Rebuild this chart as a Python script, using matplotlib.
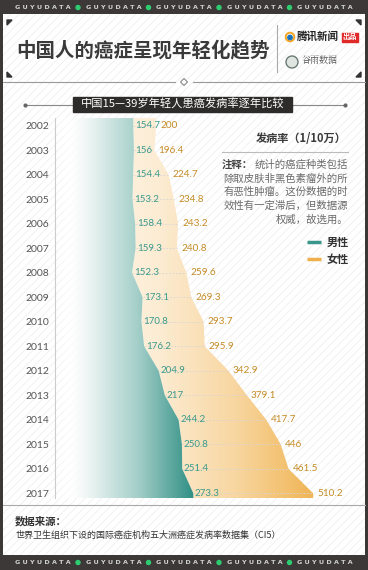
import numpy as np
import matplotlib
matplotlib.use("Agg")
import matplotlib.pyplot as plt
import matplotlib.colors as mcolors
from matplotlib.patches import Rectangle, Polygon, Circle

plt.rcParams['font.family'] = ['Noto Sans CJK SC', 'DejaVu Sans']
plt.rcParams['hatch.linewidth'] = 0.6

years = np.arange(2002, 2018)
male = [154.7, 156, 154.4, 153.2, 158.4, 159.3, 152.3, 173.1, 170.8, 176.2,
        204.9, 217, 244.2, 250.8, 251.4, 273.3]
female = [200, 196.4, 224.7, 234.8, 243.2, 240.8, 259.6, 269.3, 293.7, 295.9,
          342.9, 379.1, 417.7, 446, 461.5, 510.2]
male_labels = ["154.7", "156", "154.4", "153.2", "158.4", "159.3", "152.3", "173.1",
               "170.8", "176.2", "204.9", "217", "244.2", "250.8", "251.4", "273.3"]
female_labels = ["200", "196.4", "224.7", "234.8", "243.2", "240.8", "259.6", "269.3",
                 "293.7", "295.9", "342.9", "379.1", "417.7", "446", "461.5", "510.2"]

title = "中国人的癌症呈现年轻化趋势"
subtitle = "中国15—39岁年轻人患癌发病率逐年比较"
unit = "发病率（1/10万）"
note_head = "注释："
note_lines = ["统计的癌症种类包括", "除取皮肤非黑色素瘤外的所", "有恶性肿瘤。这份数据的时",
              "效性有一定滞后，但数据源", "权威，故选用。"]
source_title = "数据来源："
source = "世界卫生组织下设的国际癌症机构五大洲癌症发病率数据集（CI5）"

W, H = 368, 570
dark = '#3b3837'
teal = '#3a968b'
orange = '#efb04c'

fig = plt.figure(figsize=(W / 100, H / 100), dpi=100)
fig.patch.set_facecolor('white')

# decoration layer in pixel coordinates
bg = fig.add_axes([0, 0, 1, 1])
bg.set_xlim(0, W)
bg.set_ylim(H, 0)
bg.axis('off')

bg.add_patch(Rectangle((0, 0), W, H, facecolor=dark, edgecolor='none', zorder=0))
bg.add_patch(Rectangle((3, 14), W - 6, 541, facecolor='white', edgecolor='#efefef',
                       hatch='////', lw=0, zorder=1))

# top / bottom brand bands
for yb in (7.5, 562.5):
    for i in range(5):
        bg.text(43 + 70.5 * i, yb, "G U Y U D A T A", color='#d2d2d2', fontsize=4.6,
                fontweight='bold', ha='center', va='center', family='DejaVu Sans', zorder=3)
        if i < 4:
            bg.add_patch(Circle((78 + 70.5 * i, yb), 2.0, color='#2ecc71', zorder=3))

# title block
for (cx, cy, dx, dy) in [(7, 20, 1, 1), (361, 20, -1, 1), (7, 77, 1, -1), (361, 77, -1, -1)]:
    bg.add_patch(Polygon([(cx, cy), (cx + 5 * dx, cy), (cx, cy + 5 * dy)],
                         closed=True, color='#333333', zorder=3))
bg.text(143, 50, title, fontsize=14, fontweight='bold', color='#3a3a3a',
        ha='center', va='center', zorder=3)
bg.plot([277, 277], [25, 72], color='#aaaaaa', lw=0.8, zorder=3)

# logos
bg.add_patch(Circle((290, 37), 4.3, facecolor='white', edgecolor='#f5a623', lw=1.4, zorder=3))
bg.add_patch(Circle((290, 37.5), 2.2, color='#1e73be', zorder=4))
bg.text(296.5, 37, "腾讯新闻", fontsize=7.6, fontweight='bold', color='#222222',
        ha='left', va='center', zorder=3)
bg.add_patch(Rectangle((342, 32.5), 16, 9, color='#e02929', zorder=3))
bg.text(350, 37, "出品", fontsize=5.2, fontweight='bold', color='white',
        ha='center', va='center', zorder=4)
bg.add_patch(Circle((292, 62), 6, facecolor='#dfe6e2', edgecolor='#6b7c74', lw=1, zorder=3))
bg.text(302, 60, "谷雨数据", fontsize=6.5, color='#555555', ha='left', va='center',
        family=['Noto Serif CJK SC', 'Noto Sans CJK SC'], zorder=3)

# separator with diamond
bg.plot([3, 175], [82, 82], color='#999999', lw=0.8, zorder=3)
bg.plot([193, 365], [82, 82], color='#999999', lw=0.8, zorder=3)
bg.add_patch(Polygon([(184, 78.5), (187.5, 82), (184, 85.5), (180.5, 82)], closed=True,
                     facecolor='white', edgecolor='#888888', lw=0.8, zorder=3))

# subtitle bar
bg.plot([25, 345], [105, 105], color='#888888', lw=0.8, zorder=3)
bg.plot([25, 345], [105, 105], 'o', color='#666666', ms=2, zorder=3)
bg.add_patch(Rectangle((73, 97), 219, 15, color='#2e2c2b', zorder=4))
bg.text(182.5, 104.5, subtitle, fontsize=8.1, color='white', ha='center', va='center', zorder=5)

# unit, note, legend
bg.text(347, 139, unit, fontsize=8, fontweight='bold', color='#3a3a3a', ha='right',
        va='center', zorder=3)
bg.plot([222, 348], [152, 152], color='#bbbbbb', lw=0.8, zorder=3)
note_y = [165, 178.5, 192, 206, 220]
bg.text(222, note_y[0], note_head, fontsize=7.5, fontweight='bold', color='#444444',
        ha='left', va='center', zorder=3)
for k, line in enumerate(note_lines):
    bg.text(348, note_y[k], line, fontsize=7.5, color='#6a6a6a', ha='right', va='center', zorder=3)
for yl, c, lab in [(242, teal, "男性"), (259, orange, "女性")]:
    bg.plot([307, 321], [yl, yl], color=c, lw=2.5, solid_capstyle='butt', zorder=3)
    bg.text(327, yl, lab, fontsize=8, fontweight='bold', color='#333333', ha='left',
            va='center', zorder=3)

# source block
bg.plot([3, 365], [505, 505], color='#aaaaaa', lw=0.8, zorder=3)
bg.text(15, 521, source_title, fontsize=7.5, fontweight='bold', color='#333333',
        ha='left', va='center', zorder=3)
bg.text(15, 535, source, fontsize=6.5, color='#333333', ha='left', va='center', zorder=3)

# chart
px = 0.506
top_px, bot_px = 118, 498
y0_px, y1_px = 125.7, 493.3
step = (y1_px - y0_px) / (len(years) - 1)
xmax = 600
ax = fig.add_axes([55 / W, 1 - bot_px / H, xmax * px / W, (bot_px - top_px) / H])
ax.patch.set_alpha(0)
ylo = years[0] - (y0_px - top_px) / step
yhi = years[-1] + (bot_px - y1_px) / step

yy = np.concatenate([[ylo], years, [yhi]])
m_ext = np.concatenate([[male[0]], male, [male[-1]]])
f_ext = np.concatenate([[female[0]], female, [female[-1]]])

cm_m = mcolors.LinearSegmentedColormap.from_list(
    "m", [(0, (1, 1, 1, 0)), (0.12, (1, 1, 1, 0.7)), (0.22, '#f1f7f6'),
          (0.6, '#a3cec8'), (1, '#2f8f84')])
cm_f = mcolors.LinearSegmentedColormap.from_list(
    "f", [(0, '#fffaf2'), (0.4, '#fcecd3'), (0.7, '#f8d6a0'), (1, '#f0b555')])

grad = np.linspace(0, 1, 256).reshape(1, -1)
poly_f = ax.fill_betweenx(yy, m_ext, f_ext, facecolor='none', edgecolor='none')
im_f = ax.imshow(grad, cmap=cm_f, aspect='auto', extent=(0, max(female), yhi, ylo),
                 zorder=1, interpolation='bilinear')
im_f.set_clip_path(poly_f.get_paths()[0], ax.transData)

poly_m = ax.fill_betweenx(yy, 0, m_ext, facecolor='none', edgecolor='none')
im_m = ax.imshow(grad, cmap=cm_m, aspect='auto', extent=(0, max(male), yhi, ylo),
                 zorder=2, interpolation='bilinear')
im_m.set_clip_path(poly_m.get_paths()[0], ax.transData)
ax.set_xlim(0, xmax)
ax.set_ylim(yhi, ylo)

ax.hlines(years, male, female, colors='#d5d5d5', linestyles=(0, (2, 2)), lw=0.6, zorder=3)

for y, m, f, ml, fl in zip(years, male, female, male_labels, female_labels):
    ax.annotate(ml, (m, y), xytext=(1.2, 0), textcoords='offset points', ha='left',
                va='center', fontsize=7, color='#3a9a8c', family='Lato', zorder=4)
    ax.annotate(fl, (f, y), xytext=(3, 0), textcoords='offset points', ha='left',
                va='center', fontsize=7.2, color='#c58c26', family='Lato', zorder=4)

ax.set_yticks(years)
ax.set_yticklabels([str(y) for y in years], fontsize=7.5, color='#555555', family='Lato')
ax.tick_params(axis='y', length=0, pad=4)
ax.set_xticks([])
for s in ['top', 'right', 'bottom']:
    ax.spines[s].set_visible(False)
ax.spines['left'].set_color('#cccccc')
ax.spines['left'].set_linewidth(0.8)

fig.savefig('out.png', dpi=100)
